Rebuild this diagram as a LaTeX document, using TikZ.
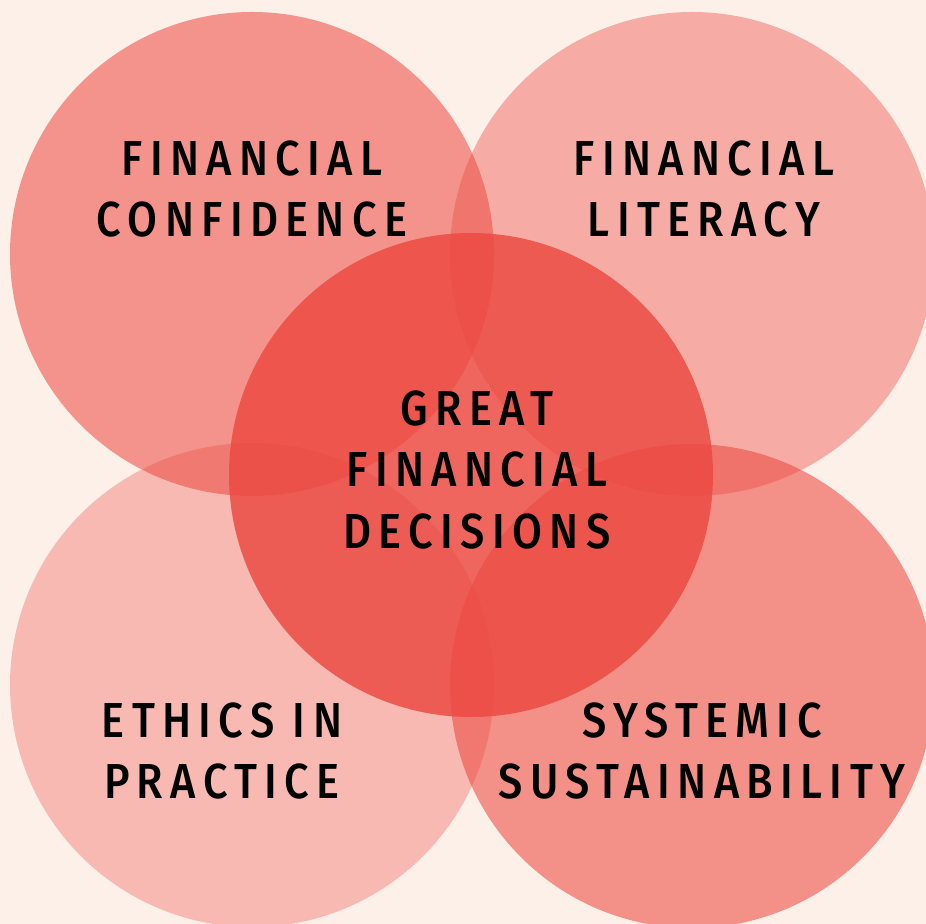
\documentclass[tikz,border=0pt]{standalone}
\usepackage{fontspec}
\setmainfont{Fira Sans}[LetterSpace=15, FakeStretch=0.88, BoldFont={Fira Sans Medium}]
\definecolor{bgcream}{RGB}{253,240,232}
\definecolor{vennred}{RGB}{236,72,64}
\def\R{2.42}
\tikzset{
  areatext/.style={align=center, text=black,
    font=\fontsize{14}{17.6}\selectfont\bfseries}
}

\begin{document}
\begin{tikzpicture}
\fill[bgcream] (0,0) rectangle (9.26,-9.24);
\useasboundingbox (0,0) rectangle (9.26,-9.24);
\clip (0,0) rectangle (9.26,-9.24);

\coordinate (TL) at (2.52,-2.54);
\coordinate (TR) at (6.92,-2.54);
\coordinate (BL) at (2.52,-6.85);
\coordinate (BR) at (6.92,-6.86);
\coordinate (M) at (4.71,-4.75);

\foreach \c/\o in {TL/0.55, TR/0.4, BL/0.32, BR/0.57, M/0.82}{
	\fill[vennred, opacity=\o] (\c) circle (\R);
}

\node[areatext] (confidence) at (2.52,-1.89) {FINANCIAL\\CONFIDENCE};
\node[areatext] (literacy) at (7.04,-1.89) {FINANCIAL\\LITERACY};
\node[areatext] (decisions) at (4.77,-4.70) {GREAT\\FINANCIAL\\DECISIONS};
\node[areatext] (ethics) at (2.22,-7.51) {ETHICS IN\\PRACTICE};
\node[areatext] (systemic) at (7.02,-7.51) {SYSTEMIC\\SUSTAINABILITY};
\end{tikzpicture}
\end{document}
